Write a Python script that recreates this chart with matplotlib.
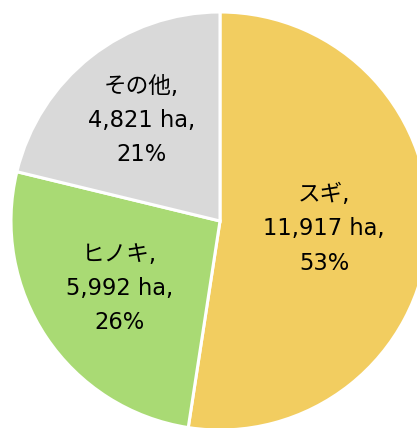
import numpy as np
import matplotlib.pyplot as plt

plt.rcParams['font.family'] = ['DejaVu Sans', 'Noto Sans CJK JP']

# 樹種別面積
species = ['スギ', 'ヒノキ', 'その他']
area_ha = [11917, 5992, 4821]
pct_labels = ['53%', '26%', '21%']
colors = ['#F2CD60', '#A9DA74', '#D9D9D9']

# label radius (fraction of pie radius) for each slice
label_r = [0.50, 0.58, 0.61]

fig = plt.figure(figsize=(4.17, 4.28), dpi=100)
# pie is slightly clipped at the right and bottom in the original
ax = fig.add_axes([11 / 417, -2 / 428, 418 / 417, 418 / 428])

wedges, _ = ax.pie(
    area_ha, colors=colors, startangle=90, counterclock=False,
    radius=1.0, labels=None,
    wedgeprops=dict(edgecolor='white', linewidth=2.2),
)

for w, name, a, p, r in zip(wedges, species, area_ha, pct_labels, label_r):
    theta = np.deg2rad((w.theta1 + w.theta2) / 2)
    ax.text(r * np.cos(theta), r * np.sin(theta),
            f'{name},\n{a:,} ha,\n{p}',
            ha='center', va='center', fontsize=16.3, linespacing=1.62,
            color='black')

ax.set_xlim(-1, 1)
ax.set_ylim(-1, 1)
ax.set_aspect('equal')
ax.axis('off')

fig.savefig('out.png', dpi=100)
